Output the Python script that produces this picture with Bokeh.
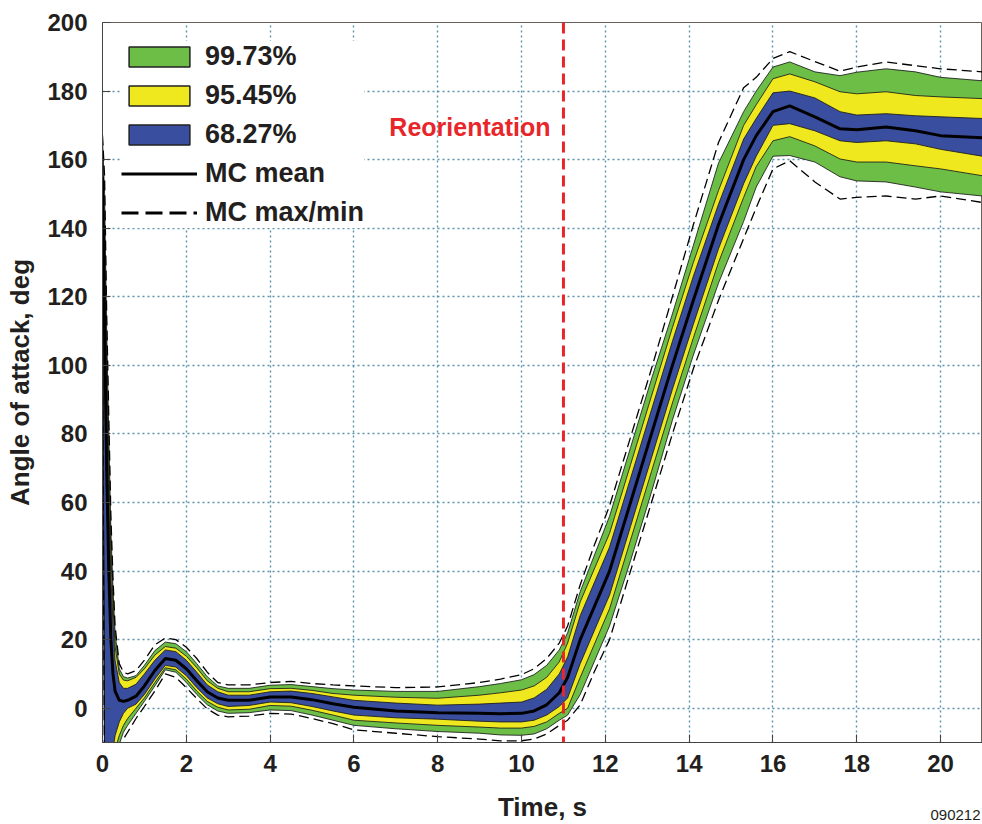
from bokeh.plotting import figure
from bokeh.models import Range1d, Label, Span, Legend, LegendItem, FixedTicker, Title
from bokeh.embed import file_html
from bokeh.resources import INLINE

# ---- data ----
t = [0, 0.05, 0.1, 0.15, 0.2, 0.25, 0.3, 0.4, 0.5, 0.6, 0.8, 1.0, 1.25, 1.5, 1.75,
     2.0, 2.25, 2.5, 2.75, 3.0, 3.5, 4.0, 4.5, 5.0, 5.5, 6.0, 7.0, 8.0, 9.0, 9.5,
     10.0, 10.3, 10.6, 10.9, 11.1, 11.4, 11.75, 12.1, 12.6, 13.1, 13.6, 14.1, 14.7,
     15.3, 15.6, 16.0, 16.4, 17.0, 17.6, 18.0, 18.7, 19.4, 20.0, 21.0]

mc_mean = [155, 110, 70, 40, 20, 10, 5, 2.3, 2.0, 2.3, 3.5, 6.5, 11, 14.5, 14,
           11.5, 8, 4.8, 3, 2.3, 2.3, 3.3, 3.3, 2.5, 1.3, 0.3, -0.8, -1.3, -1.5, -1.6,
           -1.5, -0.8, 1.0, 4.5, 9, 20, 30, 40, 60, 80, 100, 119, 141,
           160, 167, 174, 175.7, 172.5, 169, 168.7, 169.5, 168.4, 167, 166.4]

p68_hi = [162, 125, 90, 60, 38, 25, 14, 7.5, 5.8, 5.8, 7, 10, 14, 17, 16.5,
          14, 10.5, 6.8, 4.8, 3.8, 3.8, 4.8, 5, 4.3, 3.3, 2.3, 1.5, 0.9, 1.2, 1.5,
          1.8, 3, 5.5, 10, 15, 27, 37, 47, 67, 87, 107, 126, 147,
          166, 172, 179.5, 180, 178, 174, 173, 173.4, 172.8, 172.5, 172]

p68_lo = [140, -15, -20, -20, -15, -12, -8, -4, -1.5, 0, 1.2, 4, 8.5, 12.5, 12,
          9.5, 6, 3, 1.3, 0.5, 0.8, 1.8, 1.6, 0.5, -0.8, -2, -2.8, -3.2, -3.8, -4,
          -4, -3.5, -2, 0.5, 3, 13, 23, 33, 53, 73, 93, 112, 134,
          153, 161, 170, 170.5, 168.4, 165.5, 165, 165.5, 164.6, 163, 161]

p95_hi = [164, 135, 100, 70, 45, 30, 18, 10, 8.2, 8, 9, 11.5, 15.5, 18, 17.5,
          15.2, 11.8, 8, 5.8, 4.8, 4.8, 5.7, 5.8, 5.2, 4.3, 3.8, 3.2, 2.9, 3.8, 4.5,
          5.3, 6.5, 9, 13.5, 19, 31, 41, 51, 71, 91, 111, 130, 151,
          170, 176, 183.6, 185, 182.7, 179.8, 179.2, 179.8, 178.7, 178.3, 177.8]

p95_lo = [130, -20, -20, -20, -20, -18, -12, -8, -5, -3, 0, 3, 7.5, 11.8, 11.2,
          8.5, 5, 2, 0.3, -0.5, -0.3, 0.8, 0.6, -0.6, -2, -3.5, -4.3, -5, -5.5, -5.8,
          -5.8, -5.3, -4, -1.5, 0, 9, 19, 29, 49, 69, 89, 108, 130,
          149, 158, 165.5, 166.7, 164, 160.2, 159.3, 159.3, 158.2, 157.3, 155.3]

p9973_hi = [166, 150, 110, 80, 52, 35, 22, 11.5, 9.2, 8.8, 9.5, 12.5, 16.8, 19.3, 18.8,
            16.5, 13, 9.2, 6.5, 5.8, 5.8, 6.7, 6.9, 6.3, 5.7, 5.3, 4.9, 4.9, 6.3, 7.2,
            8.3, 9.8, 12.5, 17, 22, 34, 45, 56, 76, 96, 115, 135, 159,
            174, 180, 187, 188.5, 185.6, 184.5, 185.5, 186.5, 185.6, 184, 183]

p9973_lo = [120, -20, -20, -20, -20, -20, -16, -10.5, -7, -5, -1.5, 2, 6.5, 11.2, 10.5,
            7.5, 4, 1, -0.8, -1.5, -1.3, -0.5, -0.7, -2, -3.5, -5, -6, -6.8, -7.3, -7.8,
            -7.9, -7.5, -6, -3.5, -2, 4, 14, 24, 43, 63, 84, 103, 124,
            142, 152, 161, 161.2, 159.3, 155, 153.8, 153.5, 152, 150.6, 149.4]

mc_max = [167, 155, 115, 85, 56, 38, 24, 13, 10.5, 10, 11, 14, 18.5, 20.5, 20,
          17.8, 14.5, 10.5, 7.5, 6.8, 6.8, 7.5, 7.8, 7.2, 6.8, 6.5, 6, 6.2, 7.5, 8.5,
          9.8, 11.5, 14.5, 19, 24, 36, 48, 59, 79, 99, 120, 141, 165,
          181, 184, 189.5, 191.5, 188.6, 185.8, 187, 188.5, 187.4, 186.5, 185.6]

mc_min = [100, -25, -25, -25, -25, -25, -20, -12, -9, -7, -3, 0.5, 5, 10, 9,
          6, 2.8, -0.2, -2, -2.5, -2.3, -1.5, -1.7, -3, -4.5, -6.3, -7.3, -8.3, -9, -9.5,
          -9.5, -9, -7.5, -5, -3.5, 1, 11, 20, 40, 60, 80, 99, 119,
          137, 146, 157.3, 159.7, 153.5, 148.5, 149, 149.4, 148.5, 149.4, 147.5]

band_labels = ["99.73%", "95.45%", "68.27%"]
x_ticks = list(range(0, 22, 2))
y_ticks = list(range(0, 201, 20))
reorient_time = 11

GREEN = "#6cbe46"
YELLOW = "#f0e81e"
BLUE = "#3a4ea0"
TEXT = "#231f20"
FONT = "Liberation Sans"

p = figure(width=982, height=824, output_backend="svg", toolbar_location=None,
           x_range=Range1d(0, 21), y_range=Range1d(-10, 200),
           min_border_left=102, min_border_right=0, min_border_top=22, min_border_bottom=82)
p.background_fill_color = "white"
p.border_fill_color = "white"
p.outline_line_color = "#6b5f5a"
p.outline_line_width = 1

# bands
r_g = p.varea(x=t, y1=p9973_lo, y2=p9973_hi, fill_color=GREEN)
r_y = p.varea(x=t, y1=p95_lo, y2=p95_hi, fill_color=YELLOW)
r_b = p.varea(x=t, y1=p68_lo, y2=p68_hi, fill_color=BLUE)
for arr in (p9973_lo, p9973_hi, p95_lo, p95_hi, p68_lo, p68_hi):
    p.line(t, arr, line_color="#1a1a1a", line_width=1, line_alpha=0.85)

r_mean = p.line(t, mc_mean, line_color="black", line_width=3)
r_max = p.line(t, mc_max, line_color="black", line_width=1.3, line_dash="10 5")
r_min = p.line(t, mc_min, line_color="black", line_width=1.3, line_dash="10 5")

# reorientation marker
p.add_layout(Span(location=reorient_time, dimension="height", line_color="#e8262a",
                  line_width=3, line_dash="11 6"))
p.add_layout(Label(x=10.69, y=169.5, text="Reorientation", text_align="right",
                   text_baseline="middle", text_color="#e8262a", text_font=FONT,
                   text_font_style="bold", text_font_size="25px"))

# legend proxies (drawn outside the visible ranges, shown only in the legend)
off_x = [-5, -4]
off_y = [-60, -60]
lg_g = p.quad(top=[-50], bottom=[-60], left=[-5], right=[-4], fill_color=GREEN, line_color="#222", line_width=1.5)
lg_y = p.quad(top=[-50], bottom=[-60], left=[-5], right=[-4], fill_color=YELLOW, line_color="#222", line_width=1.5)
lg_b = p.quad(top=[-50], bottom=[-60], left=[-5], right=[-4], fill_color=BLUE, line_color="#222", line_width=1.5)
lg_m = p.line(off_x, off_y, line_color="black", line_width=3)
lg_d = p.line(off_x, off_y, line_color="black", line_width=3, line_dash="17 7")

legend = Legend(items=[
    LegendItem(label=band_labels[0], renderers=[lg_g]),
    LegendItem(label=band_labels[1], renderers=[lg_y]),
    LegendItem(label=band_labels[2], renderers=[lg_b]),
    LegendItem(label="MC mean", renderers=[lg_m]),
    LegendItem(label="MC max/min", renderers=[lg_d]),
], location="top_left")
legend.margin = 19
legend.padding = 0
legend.glyph_width = 76
legend.glyph_height = 25
legend.label_height = 25
legend.spacing = 8
legend.label_standoff = 8
legend.label_text_font = FONT
legend.label_text_font_style = "bold"
legend.label_text_font_size = "27px"
legend.label_text_color = TEXT
legend.border_line_color = None
legend.background_fill_color = "white"
legend.background_fill_alpha = 1
p.add_layout(legend)

# axes
p.xaxis.ticker = FixedTicker(ticks=x_ticks)
p.yaxis.ticker = FixedTicker(ticks=y_ticks)
for ax in (p.xaxis[0], p.yaxis[0]):
    ax.major_tick_in = 8
    ax.major_tick_out = 0
    ax.minor_tick_in = 0
    ax.minor_tick_out = 0
    ax.axis_line_color = "#444444"
    ax.major_tick_line_color = "#444444"
    ax.major_label_text_font = FONT
    ax.major_label_text_font_style = "bold"
    ax.major_label_text_font_size = "24px"
    ax.major_label_text_color = TEXT
    ax.axis_label_text_font = FONT
    ax.axis_label_text_font_style = "bold"
    ax.axis_label_text_font_size = "26px"
    ax.axis_label_text_color = TEXT
p.xaxis.axis_label = "Time, s"
p.yaxis.axis_label = "Angle of attack, deg"
p.xaxis.major_label_standoff = 12
p.xaxis.axis_label_standoff = 17
p.yaxis.major_label_standoff = 15
p.yaxis.axis_label_standoff = 9

p.xgrid.ticker = FixedTicker(ticks=x_ticks)
p.ygrid.ticker = FixedTicker(ticks=y_ticks)
for g in (p.xgrid[0], p.ygrid[0]):
    g.grid_line_color = "#5b93ad"
    g.grid_line_width = 1.4
    g.grid_line_dash = "2 3"

p.add_layout(Title(text="090212", align="right", text_font=FONT, text_font_size="15px",
                   text_font_style="normal", text_color=TEXT, standoff=-30, offset=2,
                   vertical_align="top"), "below")

open("out.html", "w").write(file_html(p, INLINE))
